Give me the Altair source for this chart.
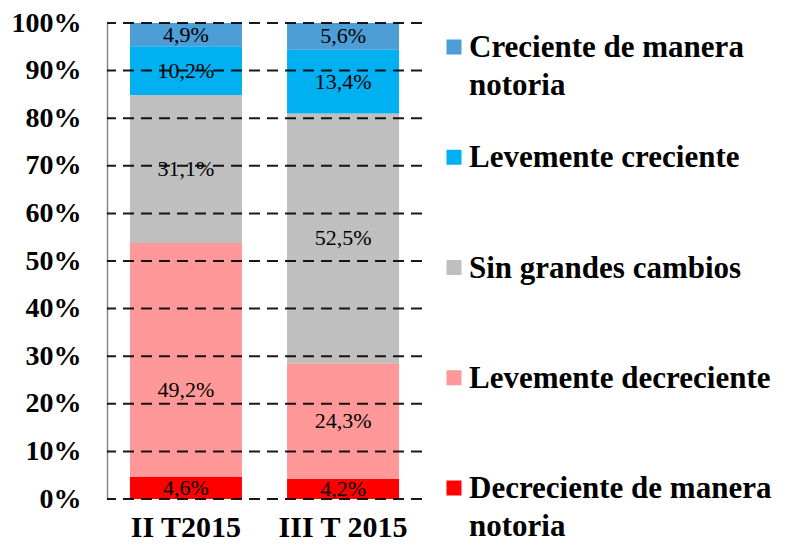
import altair as alt
import pandas as pd

periods = ["II T2015", "III T 2015"]
categories = [
    "Decreciente de manera notoria",
    "Levemente decreciente",
    "Sin grandes cambios",
    "Levemente creciente",
    "Creciente de manera notoria",
]
legend_labels = [
    "Decreciente de manera\nnotoria",
    "Levemente decreciente",
    "Sin grandes cambios",
    "Levemente creciente",
    "Creciente de manera\nnotoria",
]
colors = ["#FF0000", "#FF9999", "#BFBFBF", "#00B0F0", "#4D9DD6"]
values_q2 = [4.6, 49.2, 31.1, 10.2, 4.9]
values_q3 = [4.2, 24.3, 52.5, 13.4, 5.6]
y_ticks = [0, 10, 20, 30, 40, 50, 60, 70, 80, 90, 100]

FONT = "Liberation Serif"

rows = []
for p, vals in zip(periods, [values_q2, values_q3]):
    for i, (c, v) in enumerate(zip(categories, vals)):
        rows.append({
            "period": p,
            "category": c,
            "order": i,
            "value": v,
            "label": f"{v:.1f}".replace(".", ",") + "%",
        })
df = pd.DataFrame(rows)

W, H = 315, 476

color_scale = alt.Scale(domain=categories, range=colors)

base = alt.Chart(df).transform_stack(
    stack="value", as_=["y0", "y1"], groupby=["period"],
    sort=[alt.SortField("order", order="ascending")],
).transform_calculate(mid="(datum.y0 + datum.y1) / 2")

x_enc = alt.X(
    "period:N", sort=periods,
    scale=alt.Scale(paddingInner=0.287, paddingOuter=0.146),
    axis=alt.Axis(
        title=None, labelAngle=0, domain=False, ticks=False,
        labelFont=FONT, labelFontSize=30, labelFontWeight="bold",
        labelColor="black", labelPadding=13,
    ),
)
y_scale = alt.Scale(domain=[0, 100], nice=False)

bars = base.mark_bar().encode(
    x=x_enc,
    y=alt.Y(
        "y0:Q", scale=y_scale,
        axis=alt.Axis(
            values=y_ticks, labelExpr="datum.value + '%'", title=None,
            grid=False, ticks=False, domainColor="#888888", domainWidth=1.5,
            labelFont=FONT, labelFontSize=28, labelFontWeight="bold",
            labelColor="black", labelPadding=26,
        ),
    ),
    y2="y1:Q",
    color=alt.Color("category:N", scale=color_scale, legend=None),
)

grid_df = pd.DataFrame({"t": y_ticks})
grid = alt.Chart(grid_df).mark_rule(
    color="black", strokeWidth=2, strokeDash=[11, 7], opacity=0.9
).encode(y=alt.Y("t:Q", scale=y_scale))

text_main = base.transform_filter(
    "!(datum.period == 'II T2015' && datum.category == 'Levemente decreciente')"
).mark_text(font=FONT, fontSize=22, color="black").encode(
    x=alt.X("period:N", sort=periods),
    y=alt.Y("mid:Q", scale=y_scale),
    text="label:N",
)
text_nudged = base.transform_filter(
    "datum.period == 'II T2015' && datum.category == 'Levemente decreciente'"
).mark_text(font=FONT, fontSize=22, color="black", dy=30).encode(
    x=alt.X("period:N", sort=periods),
    y=alt.Y("mid:Q", scale=y_scale),
    text="label:N",
)

main = alt.layer(bars, grid, text_main, text_nudged).properties(width=W, height=H)

leg_df = pd.DataFrame({"category": categories, "lab": legend_labels})
leg_y = alt.Y(
    "category:N", sort=list(reversed(categories)),
    scale=alt.Scale(type="point", range=[24, 465], padding=0), axis=None,
)
leg_sq = alt.Chart(leg_df).mark_square(size=225, opacity=1).encode(
    x=alt.value(15), y=leg_y,
    color=alt.Color("category:N", scale=color_scale, legend=None),
)
leg_txt = alt.Chart(leg_df).mark_text(
    font=FONT, fontSize=31, fontWeight="bold", align="left",
    baseline="alphabetic", dy=10, lineBreak="\n", lineHeight=38, color="black",
).encode(x=alt.value(30), y=leg_y, text="lab:N")
legend = alt.layer(leg_sq, leg_txt).properties(width=300, height=H)

chart = alt.hconcat(main, legend, spacing=16).properties(
    padding={"left": 3, "top": 1, "right": 0, "bottom": 0}
).configure_view(stroke=None)

chart.save("out.html", embed_options={"renderer": "svg", "actions": False})
